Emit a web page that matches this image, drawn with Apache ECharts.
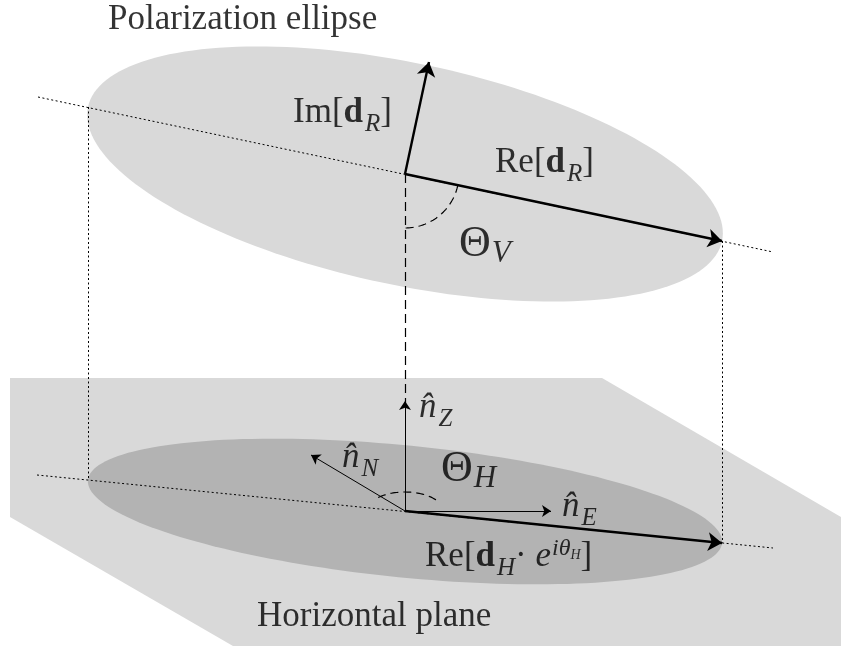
<!DOCTYPE html>
<html>
<head>
<meta charset="utf-8">
<title>Polarization ellipse</title>
<script src="https://cdn.jsdelivr.net/npm/echarts@6/dist/echarts.min.js"></script>
</head>
<body style="margin:0;padding:0">
<div id="main" style="width:841px;height:648px;"></div>
<script type="text/javascript">
var chart = echarts.init(document.getElementById('main'));

// outline of the horizontal plane
var planePoints = [[10, 378], [602, 378], [841, 517], [841, 646], [233, 646], [10, 517]];
// ellipses: centre x, centre y, semi-major, semi-minor, tilt (deg)
var upperEllipse = [405, 174, 324, 111, 11.93];
var lowerEllipse = [405, 511.5, 318.6, 66, 5.67];
// guide lines
var dottedLines = [
    [[38, 97], [773, 252]],
    [[37, 475], [773, 548]],
    [[88, 107], [88, 480]],
    [[722, 241], [722, 543]]
];
var dashedLines = [[[405, 174], [405, 403]]];
// vectors
var boldArrows = [
    [[405, 174], [722, 241]],
    [[405, 174], [429, 62]],
    [[405, 511], [722, 543]]
];
var thinArrows = [
    [[405, 511], [405, 401]],
    [[405, 511], [311, 455]],
    [[405, 511], [551, 511]]
];
// angle marks: centre x, centre y, rx, ry, from deg, to deg
var angleArcs = [
    [405, 174, 54, 54, 11.9, 90],
    [405, 511, 38, 19, -135, -28]
];
// labels
var labelPoints = [[108, 16], [293, 112], [495, 162], [459, 246], [419, 407],
    [342, 457], [441, 471], [562, 506], [425, 556], [257, 613]];
var labelTexts = [
    '{rm|Polarization ellipse}',
    '{rm|Im[}{bf|d}{sub|R}{rm|]}',
    '{rm|Re[}{bf|d}{sub|R}{rm|]}',
    '{big|\u0398}{bigsub|V}',
    '{it|n\u0302}{sub|Z}',
    '{it|n\u0302}{sub|N}',
    '{big|\u0398}{bigsub|H}',
    '{it|n\u0302}{sub|E}',
    '{rm|Re[}{bf|d}{sub|H}{rm|\u00b7 }{it|e}{sup|i\u03b8}{supsub|H}{rm|]}',
    '{rm|Horizontal plane}'
];

var serif = '"Liberation Serif", "DejaVu Serif", serif';

function ellipseSeries(ell, colour, z) {
    return {
        type: 'custom',
        z: z,
        data: [ell],
        renderItem: function (params, api) {
            var cx = api.value(0), cy = api.value(1), a = api.value(2), b = api.value(3);
            var t = api.value(4) * Math.PI / 180;
            var pts = [];
            for (var k = 0; k < 180; k++) {
                var u = k / 180 * 2 * Math.PI;
                var ex = a * Math.cos(u), ey = b * Math.sin(u);
                pts.push(api.coord([cx + ex * Math.cos(t) - ey * Math.sin(t),
                                    cy + ex * Math.sin(t) + ey * Math.cos(t)]));
            }
            return { type: 'polygon', shape: { points: pts }, style: { fill: colour } };
        }
    };
}

function lineSeries(lines, style, z, arrow) {
    return {
        type: 'lines',
        coordinateSystem: 'cartesian2d',
        z: z,
        symbol: arrow ? ['none', 'arrow'] : 'none',
        symbolSize: arrow || 0,
        lineStyle: style,
        data: lines.map(function (c) { return { coords: c }; })
    };
}

// one text style for every piece of the labels
function txt(size, extra) {
    var s = { fontSize: size, fontFamily: serif, color: '#000', verticalAlign: 'top' };
    for (var k in extra) s[k] = extra[k];
    return s;
}

var option = {
    animation: false,
    backgroundColor: '#ffffff',
    grid: { left: 0, right: 0, top: 0, bottom: 0 },
    xAxis: { type: 'value', min: 0, max: 841, show: false },
    yAxis: { type: 'value', min: 0, max: 648, inverse: true, show: false },
    series: [
        {
            type: 'custom',
            z: 1,
            data: [0],
            renderItem: function (params, api) {
                return {
                    type: 'polygon',
                    shape: { points: planePoints.map(function (p) { return api.coord(p); }) },
                    style: { fill: '#d9d9d9' }
                };
            }
        },
        ellipseSeries(lowerEllipse, '#b3b3b3', 2),
        ellipseSeries(upperEllipse, '#d9d9d9', 3),
        lineSeries(dottedLines, { color: '#000', width: 1, type: [2, 2.5], opacity: 1 }, 4),
        lineSeries(dashedLines, { color: '#000', width: 1.2, type: [9, 5], opacity: 1 }, 4),
        {
            type: 'custom',
            z: 5,
            data: angleArcs,
            renderItem: function (params, api) {
                var cx = api.value(0), cy = api.value(1), rx = api.value(2), ry = api.value(3);
                var a0 = api.value(4), a1 = api.value(5);
                var pts = [];
                for (var k = 0; k <= 40; k++) {
                    var u = (a0 + (a1 - a0) * k / 40) * Math.PI / 180;
                    pts.push(api.coord([cx + rx * Math.cos(u), cy + ry * Math.sin(u)]));
                }
                return {
                    type: 'polyline',
                    shape: { points: pts },
                    style: { stroke: '#000', lineWidth: 1.2, lineDash: [8, 5], fill: null }
                };
            }
        },
        lineSeries(boldArrows, { color: '#000', width: 2.4, opacity: 1 }, 6, 14),
        lineSeries(thinArrows, { color: '#000', width: 1, opacity: 1 }, 6, 9),
        {
            type: 'scatter',
            z: 7,
            symbolSize: 0,
            data: labelPoints.map(function (p, i) {
                return { value: p, label: { formatter: labelTexts[i] } };
            }),
            label: {
                show: true,
                position: 'right',
                distance: 0,
                color: '#000',
                fontFamily: serif,
                rich: {
                    rm: txt(35, { padding: [8, 0, 0, 0] }),
                    bf: txt(35, { fontWeight: 'bold', padding: [8, 0, 0, 0] }),
                    it: txt(35, { fontStyle: 'italic', padding: [8, 0, 0, 0] }),
                    sub: txt(25, { fontStyle: 'italic', padding: [24, 0, 0, 2] }),
                    sup: txt(24, { fontStyle: 'italic', padding: [5, 0, 0, 1] }),
                    supsub: txt(14, { fontStyle: 'italic', padding: [17, 0, 0, 0] }),
                    big: txt(44, { padding: [0, 0, 0, 0] }),
                    bigsub: txt(31, { fontStyle: 'italic', padding: [16, 0, 0, 1] })
                }
            }
        }
    ]
};
chart.setOption(option);
</script>
</body>
</html>
